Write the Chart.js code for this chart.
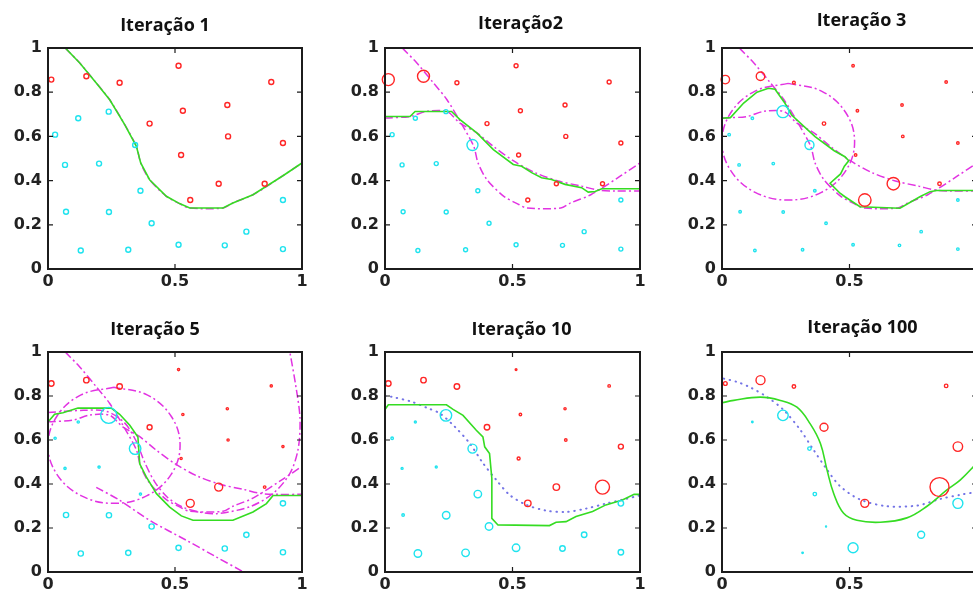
<!DOCTYPE html>
<html>
<head>
<meta charset="utf-8">
<script src="https://cdn.jsdelivr.net/npm/chart.js@4.4.1/dist/chart.umd.min.js"></script>
<style>
  html, body { margin: 0; padding: 0; background: #fff; overflow: hidden; width: 973px; height: 590px; }
  canvas { position: absolute; }
</style>
</head>
<body>
<canvas id="p1"></canvas>
<canvas id="p2"></canvas>
<canvas id="p3"></canvas>
<canvas id="p4"></canvas>
<canvas id="p5"></canvas>
<canvas id="p6"></canvas>
<script>
// ---- axis ticks and panel titles ----
const xTicks = [0, 0.5, 1];
const xTickLabels = ['0', '0.5', '1'];
const yTicks = [0, 0.2, 0.4, 0.6, 0.8, 1];
const yTickLabels = ['0', '0.2', '0.4', '0.6', '0.8', '1'];
const iterationTitles = ['Iteração 1', 'Iteração2', 'Iteração 3', 'Iteração 5', 'Iteração 10', 'Iteração 100'];

// ---- training samples ----
const redX = [0.013, 0.151, 0.282, 0.514, 0.879, 0.531, 0.706, 0.400, 0.709, 0.925, 0.524, 0.672, 0.853, 0.560];
const redY = [0.857, 0.872, 0.843, 0.920, 0.846, 0.716, 0.742, 0.658, 0.600, 0.570, 0.516, 0.386, 0.386, 0.312];
const cyanX = [0.028, 0.119, 0.239, 0.343, 0.067, 0.201, 0.364, 0.071, 0.240, 0.408, 0.129, 0.316, 0.514, 0.696, 0.781, 0.925, 0.925];
const cyanY = [0.608, 0.682, 0.712, 0.561, 0.471, 0.477, 0.354, 0.259, 0.258, 0.207, 0.084, 0.087, 0.110, 0.107, 0.169, 0.312, 0.090];

// ---- sample weights after each iteration (relative) ----
const redW1 = [1, 1, 1, 1, 1, 1, 1, 1, 1, 1, 1, 1, 1, 1];
const cyanW1 = [1, 1, 1, 1, 1, 1, 1, 1, 1, 1, 1, 1, 1, 1, 1, 1, 1];
const redW2 = [2.4, 2.4, 0.8, 0.8, 0.8, 0.8, 0.8, 0.8, 0.8, 0.8, 0.8, 0.8, 0.8, 0.8];
const cyanW2 = [0.8, 0.8, 0.8, 2.2, 0.8, 0.8, 0.8, 0.8, 0.8, 0.8, 0.8, 0.8, 0.8, 0.8, 0.8, 0.8, 0.8];
const redW3 = [1.7, 1.7, 0.55, 0.5, 0.5, 0.5, 0.5, 0.7, 0.5, 0.5, 0.5, 2.5, 0.7, 2.5];
const cyanW3 = [0.5, 0.5, 2.4, 1.8, 0.5, 0.5, 0.5, 0.5, 0.5, 0.5, 0.5, 0.5, 0.5, 0.5, 0.5, 0.5, 0.5];
const redW5 = [1.1, 1.1, 1.1, 0.45, 0.45, 0.45, 0.45, 1.0, 0.45, 0.45, 0.45, 1.6, 0.5, 1.6];
const cyanW5 = [0.45, 0.45, 3.2, 2.3, 0.45, 0.45, 0.45, 1.05, 1.05, 1.05, 1.05, 1.05, 1.05, 1.05, 1.05, 1.05, 1.05];
const redW10 = [1.1, 1.1, 1.1, 0.35, 0.5, 0.5, 0.45, 1.1, 0.5, 1.0, 0.6, 1.3, 2.8, 1.3];
const cyanW10 = [0.5, 0.4, 2.3, 1.8, 0.4, 0.4, 1.5, 0.5, 1.5, 1.5, 1.5, 1.5, 1.5, 1.1, 1.1, 1.1, 1.1];
const redW100 = [0.75, 1.8, 0.7, 0, 0.7, 0, 0, 1.6, 0, 1.9, 0, 0, 3.8, 1.6];
const cyanW100 = [0, 0.3, 2.1, 0.7, 0, 0, 0.7, 0, 0, 0.2, 0, 0.3, 2.0, 0, 1.4, 2.0, 0];

// ---- weak learner boundaries ----
const learner1X = [0.068, 0.125, 0.190, 0.243, 0.302, 0.348, 0.365, 0.400, 0.466, 0.518, 0.558, 0.689, 0.728, 0.807, 0.925, 1.000];
const learner1Y = [1.000, 0.932, 0.842, 0.766, 0.653, 0.555, 0.480, 0.404, 0.329, 0.296, 0.276, 0.276, 0.299, 0.336, 0.422, 0.480];
const learner2X = [0.000, 0.098, 0.163, 0.242, 0.294, 0.360, 0.425, 0.503, 0.588, 0.680, 0.771, 0.837, 0.902, 1.000];
const learner2Y = [0.683, 0.690, 0.713, 0.713, 0.660, 0.616, 0.555, 0.490, 0.436, 0.398, 0.375, 0.357, 0.353, 0.353];
const learner3X = [0.260, 0.130, 0.035, 0.000, 0.035, 0.130, 0.260, 0.390, 0.485, 0.520, 0.485, 0.390, 0.260];
const learner3Y = [0.840, 0.805, 0.708, 0.576, 0.444, 0.347, 0.312, 0.347, 0.444, 0.576, 0.708, 0.805, 0.840];
const learner4X = [0.000, 0.140, 0.230, 0.300, 0.345, 0.380, 0.420, 0.470, 0.530, 0.600, 0.664, 0.795, 0.887, 0.953, 0.985, 0.992, 0.975, 0.953];
const learner4Y = [0.725, 0.735, 0.730, 0.680, 0.600, 0.500, 0.410, 0.340, 0.295, 0.272, 0.265, 0.297, 0.358, 0.449, 0.560, 0.700, 0.850, 0.995];
const learner5X = [0.190, 0.282, 0.400, 0.545, 0.663, 0.770];
const learner5Y = [0.385, 0.326, 0.235, 0.144, 0.068, 0.000];

// ---- combined classifier boundaries ----
const ensemble2X = [0.000, 0.098, 0.118, 0.261, 0.294, 0.360, 0.425, 0.503, 0.536, 0.575, 0.614, 0.653, 0.706, 0.771, 0.797, 0.824, 0.850, 1.000];
const ensemble2Y = [0.690, 0.690, 0.713, 0.713, 0.676, 0.616, 0.540, 0.473, 0.465, 0.436, 0.413, 0.405, 0.383, 0.368, 0.348, 0.351, 0.363, 0.363];
const ensemble3X = [0.000, 0.033, 0.085, 0.137, 0.182, 0.208, 0.247, 0.273, 0.365, 0.440, 0.482, 0.497, 0.480, 0.465, 0.424, 0.463, 0.482, 0.541, 0.698, 0.776, 0.816, 0.842, 1.000];
const ensemble3Y = [0.682, 0.685, 0.751, 0.800, 0.818, 0.813, 0.750, 0.697, 0.599, 0.535, 0.508, 0.490, 0.465, 0.430, 0.388, 0.343, 0.327, 0.282, 0.275, 0.327, 0.350, 0.355, 0.355];
const ensemble5X = [0.000, 0.026, 0.059, 0.118, 0.249, 0.282, 0.322, 0.354, 0.361, 0.387, 0.427, 0.479, 0.525, 0.571, 0.728, 0.807, 0.860, 0.886, 1.000];
const ensemble5Y = [0.682, 0.717, 0.724, 0.745, 0.745, 0.717, 0.667, 0.614, 0.492, 0.432, 0.356, 0.295, 0.255, 0.235, 0.235, 0.273, 0.311, 0.348, 0.348];
const ensemble10X = [0.000, 0.013, 0.241, 0.267, 0.306, 0.358, 0.384, 0.391, 0.410, 0.419, 0.419, 0.443, 0.645, 0.671, 0.710, 0.749, 0.814, 0.866, 0.931, 0.977, 1.000];
const ensemble10Y = [0.739, 0.760, 0.760, 0.739, 0.712, 0.644, 0.614, 0.569, 0.538, 0.425, 0.244, 0.214, 0.211, 0.226, 0.229, 0.252, 0.275, 0.305, 0.327, 0.353, 0.353];
const ensemble100X = [0.000, 0.046, 0.150, 0.229, 0.294, 0.346, 0.386, 0.412, 0.438, 0.477, 0.529, 0.621, 0.725, 0.804, 0.882, 0.935, 0.987, 1.000];
const ensemble100Y = [0.769, 0.780, 0.795, 0.780, 0.749, 0.673, 0.584, 0.463, 0.357, 0.267, 0.235, 0.226, 0.246, 0.299, 0.373, 0.419, 0.480, 0.500];

// ---- reference (optimal) boundary ----
const bayes10X = [0.000, 0.026, 0.104, 0.169, 0.215, 0.273, 0.332, 0.384, 0.436, 0.488, 0.553, 0.632, 0.710, 0.788, 0.866, 0.944, 0.996];
const bayes10Y = [0.800, 0.796, 0.774, 0.744, 0.721, 0.661, 0.585, 0.495, 0.419, 0.351, 0.306, 0.279, 0.273, 0.288, 0.311, 0.332, 0.347];
const bayes100X = [0.007, 0.059, 0.111, 0.176, 0.242, 0.307, 0.359, 0.412, 0.464, 0.542, 0.647, 0.765, 0.856, 0.935, 0.987];
const bayes100Y = [0.879, 0.864, 0.839, 0.796, 0.736, 0.646, 0.555, 0.465, 0.389, 0.329, 0.299, 0.302, 0.332, 0.351, 0.362];

// ---- styling ----
const RED = '#ff2626';
const CYAN = '#1fe3ee';
const GREEN = '#35dc22';
const MAGENTA = '#e233e2';
const BLUE = '#7474e6';
const markerBase = 2.5;
const tickFont = { family: '"DejaVu Sans", sans-serif', size: 16, weight: 'bold' };

const pts = (xs, ys) => xs.map((x, i) => ({ x: x, y: ys[i] }));

function samples(xs, ys, ws, color) {
  return {
    type: 'scatter',
    data: pts(xs, ys),
    pointStyle: 'circle',
    pointRadius: ws.map(w => w * markerBase),
    pointBorderWidth: 1.4,
    pointBorderColor: color,
    pointBackgroundColor: 'rgba(0,0,0,0)',
    showLine: false,
    clip: false
  };
}
function curve(xs, ys, color, style, tension) {
  const ds = {
    type: 'scatter',
    data: pts(xs, ys),
    showLine: true,
    pointRadius: 0,
    borderColor: color,
    borderWidth: 1.6,
    tension: tension || 0,
    fill: false,
    clip: 0
  };
  if (style === 'dashdot') { ds.borderDash = [8, 3, 2, 3]; ds.borderWidth = 1.5; }
  if (style === 'dotted') { ds.borderDash = [0.5, 5.5]; ds.borderCapStyle = 'round'; ds.borderWidth = 2; }
  return ds;
}

// frame with inward tick marks on all four sides
const framePlugin = {
  id: 'frameBox',
  afterDatasetsDraw(chart) {
    const { ctx, chartArea: a, scales } = chart;
    ctx.save();
    ctx.strokeStyle = '#1c1c1c';
    ctx.lineWidth = 1.2;
    ctx.beginPath();
    xTicks.forEach(v => {
      const px = scales.x.getPixelForValue(v);
      ctx.moveTo(px, a.bottom); ctx.lineTo(px, a.bottom - 5);
      ctx.moveTo(px, a.top); ctx.lineTo(px, a.top + 5);
    });
    yTicks.forEach(v => {
      const py = scales.y.getPixelForValue(v);
      ctx.moveTo(a.left, py); ctx.lineTo(a.left + 5, py);
      ctx.moveTo(a.right, py); ctx.lineTo(a.right - 5, py);
    });
    ctx.stroke();
    ctx.lineWidth = 2;
    ctx.strokeRect(a.left, a.top, a.right - a.left, a.bottom - a.top);
    ctx.restore();
  }
};

// panel heading drawn above the plot box
const headingPlugin = {
  id: 'panelHeading',
  afterDraw(chart, args, opts) {
    const { ctx, chartArea: a } = chart;
    ctx.save();
    ctx.font = 'bold 18px "Open Sans", sans-serif';
    ctx.fillStyle = '#111';
    ctx.textAlign = 'center';
    ctx.textBaseline = 'alphabetic';
    ctx.fillText(opts.text, (a.left + a.right) / 2 + opts.dx, opts.baseline);
    ctx.restore();
  }
};

const AX_W = 50, AX_H = 28, TOP = 48, RIGHT = 14;

function panel(id, box, heading, datasets) {
  const cv = document.getElementById(id);
  const w = (box.R - box.L) + AX_W + RIGHT;
  const h = (box.B - box.T) + TOP + AX_H;
  cv.width = w; cv.height = h;
  cv.style.left = (box.L - AX_W) + 'px';
  cv.style.top = (box.T - TOP) + 'px';
  cv.style.width = w + 'px'; cv.style.height = h + 'px';
  return new Chart(cv, {
    type: 'scatter',
    data: { datasets: datasets },
    options: {
      responsive: false,
      animation: false,
      events: [],
      devicePixelRatio: 1,
      layout: { padding: { left: 0, top: TOP, right: RIGHT, bottom: 0 } },
      plugins: {
        legend: { display: false },
        tooltip: { enabled: false },
        title: { display: false },
        panelHeading: { text: heading.text, dx: heading.dx, baseline: heading.baseline - (box.T - TOP) }
      },
      scales: {
        x: {
          type: 'linear', min: 0, max: 1,
          afterBuildTicks: s => { s.ticks = xTicks.map(v => ({ value: v })); },
          afterFit: s => { s.height = AX_H; },
          ticks: { callback: (v, i) => xTickLabels[i], padding: 3, font: tickFont, color: '#222', maxRotation: 0, autoSkip: false },
          grid: { display: false, drawTicks: false },
          border: { display: false }
        },
        y: {
          type: 'linear', min: 0, max: 1,
          afterBuildTicks: s => { s.ticks = yTicks.map(v => ({ value: v })); },
          afterFit: s => { s.width = AX_W; },
          ticks: { callback: (v, i) => yTickLabels[i], padding: 6, font: tickFont, color: '#222', autoSkip: false },
          grid: { display: false, drawTicks: false },
          border: { display: false }
        }
      }
    },
    plugins: [framePlugin, headingPlugin]
  });
}

const row1 = { T: 48, B: 269 }, row2 = { T: 352, B: 572 };
const col1 = { L: 48, R: 302 }, col2 = { L: 385, R: 640 }, col3 = { L: 722, R: 977 };
const box = (c, r) => ({ L: c.L, R: c.R, T: r.T, B: r.B });

panel('p1', box(col1, row1), { text: iterationTitles[0], dx: -10, baseline: 31 }, [
  samples(redX, redY, redW1, RED),
  samples(cyanX, cyanY, cyanW1, CYAN),
  curve(learner1X, learner1Y, GREEN, 'solid', 0),
  curve(learner1X, learner1Y, MAGENTA, 'dashdot', 0.3)
]);

panel('p2', box(col2, row1), { text: iterationTitles[1], dx: 8, baseline: 29 }, [
  samples(redX, redY, redW2, RED),
  samples(cyanX, cyanY, cyanW2, CYAN),
  curve(ensemble2X, ensemble2Y, GREEN, 'solid', 0),
  curve(learner1X, learner1Y, MAGENTA, 'dashdot', 0.3),
  curve(learner2X, learner2Y, MAGENTA, 'dashdot', 0.3)
]);

panel('p3', box(col3, row1), { text: iterationTitles[2], dx: 12, baseline: 26 }, [
  samples(redX, redY, redW3, RED),
  samples(cyanX, cyanY, cyanW3, CYAN),
  curve(ensemble3X, ensemble3Y, GREEN, 'solid', 0),
  curve(learner1X, learner1Y, MAGENTA, 'dashdot', 0.3),
  curve(learner2X, learner2Y, MAGENTA, 'dashdot', 0.3),
  curve(learner3X, learner3Y, MAGENTA, 'dashdot', 0.38)
]);

panel('p4', box(col1, row2), { text: iterationTitles[3], dx: -20, baseline: 335 }, [
  samples(redX, redY, redW5, RED),
  samples(cyanX, cyanY, cyanW5, CYAN),
  curve(ensemble5X, ensemble5Y, GREEN, 'solid', 0),
  curve(learner1X, learner1Y, MAGENTA, 'dashdot', 0.3),
  curve(learner2X, learner2Y, MAGENTA, 'dashdot', 0.3),
  curve(learner3X, learner3Y, MAGENTA, 'dashdot', 0.38),
  curve(learner4X, learner4Y, MAGENTA, 'dashdot', 0.3),
  curve(learner5X, learner5Y, MAGENTA, 'dashdot', 0.3)
]);

panel('p5', box(col2, row2), { text: iterationTitles[4], dx: 9, baseline: 335 }, [
  samples(redX, redY, redW10, RED),
  samples(cyanX, cyanY, cyanW10, CYAN),
  curve(ensemble10X, ensemble10Y, GREEN, 'solid', 0),
  curve(bayes10X, bayes10Y, BLUE, 'dotted', 0.3)
]);

panel('p6', box(col3, row2), { text: iterationTitles[5], dx: 13, baseline: 333 }, [
  samples(redX, redY, redW100, RED),
  samples(cyanX, cyanY, cyanW100, CYAN),
  curve(ensemble100X, ensemble100Y, GREEN, 'solid', 0.4),
  curve(bayes100X, bayes100Y, BLUE, 'dotted', 0.3)
]);
</script>
</body>
</html>
